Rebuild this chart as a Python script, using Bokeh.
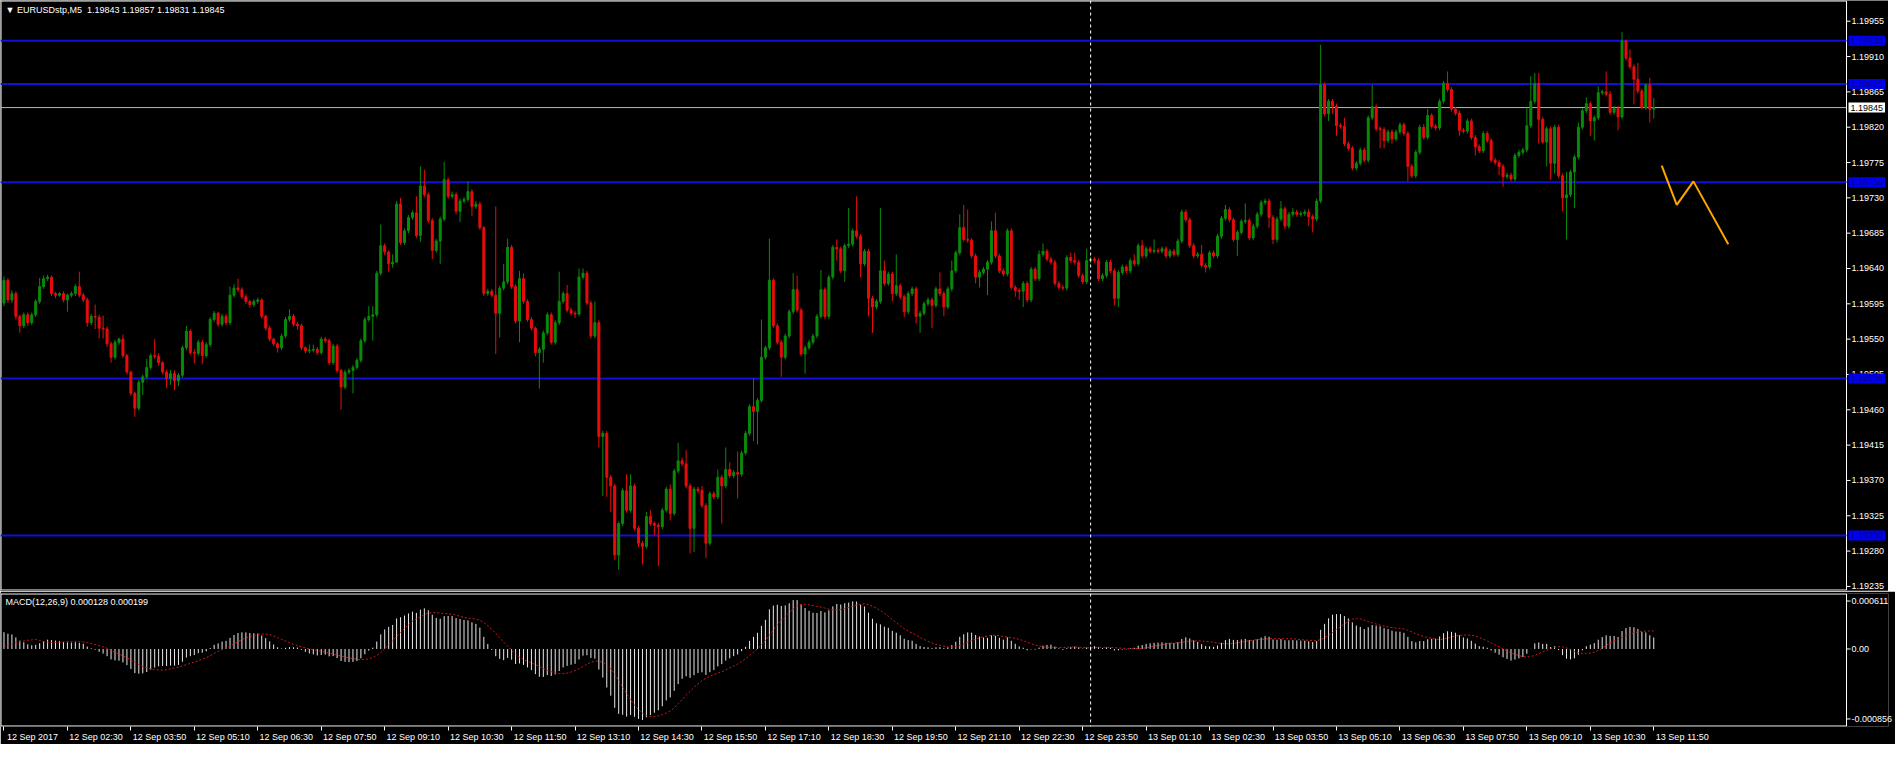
import numpy as np
from bokeh.plotting import figure
from bokeh.models import (ColumnDataSource, Range1d, FixedTicker, CustomJSTickFormatter,
                          Span, Label)
from bokeh.layouts import column
from bokeh.embed import file_html
from bokeh.resources import INLINE

# ---------------- data (prices in points: price = 1.19000 + pts / 100000) ----------------
BASE = 1.19
first_open_pts = 596
close_pts = [
    625,600,608,579,567,581,571,581,598,617, 627,629,608,606,608,600,606,608,617,606,
    600,571,579,578,564,563,544,527,546,550, 529,508,481,462,495,502,514,529,528,520,
    508,500,506,497,504,539,560,533,532,546, 529,543,575,583,569,579,571,606,615,613,
    604,598,594,598,600,579,564,550,544,539, 554,575,579,569,567,539,535,536,537,533,
    550,548,520,541,510,489,508,510,514,523, 548,575,579,581,634,669,661,646,648,722,
    673,688,705,711,682,745,734,701,663,675, 703,753,732,734,713,726,728,738,719,722,
    692,608,611,606,583,615,623,667,617,573, 627,598,575,564,533,537,558,581,546,571,
    598,608,587,583,582,629,634,596,554,571, 426,430,374,363,275,315,357,332,363,309,
    290,286,324,315,313,311,332,359,328,382, 395,391,363,309,359,357,338,290,353,349,
    374,363,384,376,380,378,405,430,464,458, 472,527,539,625,567,546,527,554,585,613,
    587,531,539,546,554,579,613,579,629,667, 665,637,669,671,688,681,646,662,602,591,
    598,637,621,633,608,618,604,585,608,614, 579,583,595,600,593,614,608,591,614,637,
    660,692,677,676,656,629,635,639,648,688, 656,637,633,688,616,612,611,621,600,639,
    627,658,662,652,648,621,616,615,654,650, 648,631,623,650,652,650,627,631,648,637,
    602,635,642,637,650,646,669,656,665,662, 663,662,665,656,662,658,675,712,702,669,
    656,658,644,642,660,656,681,704,715,702, 677,686,700,701,679,694,709,724,726,705,
    677,703,716,694,709,712,709,710,712,706, 703,726,874,837,853,847,822,821,799,793,
    768,774,791,778,832,846,818,817,803,814, 805,814,823,812,770,758,788,820,807,835,
    821,819,853,876,868,843,838,816,815,828, 807,795,790,812,803,778,775,770,757,759,
    754,784,788,791,822,853,876,830,801,818, 774,820,758,730,734,763,782,820,841,850,
    828,832,864,865,862,839,844,833,930,908, 897,881,866,845,874,843,845,
]
high_pts = [
    630,628,612,611,581,584,584,584,601,628, 631,632,631,610,610,611,608,611,620,636,
    609,603,582,594,581,580,566,547,549,552, 556,531,510,483,498,505,525,532,550,532,
    522,511,511,510,507,542,567,563,537,549, 549,546,578,586,585,582,582,617,620,627,
    616,607,600,601,603,602,581,567,552,546, 557,578,588,582,572,570,541,543,543,540,
    553,553,551,544,544,512,511,513,517,526, 551,578,592,592,637,696,672,663,658,726,
    730,691,708,714,732,770,766,737,704,678, 706,776,756,738,737,729,731,751,741,726,
    725,694,614,614,719,618,646,678,670,620, 637,634,601,578,566,540,561,584,584,574,
    636,611,619,590,586,640,640,637,599,598, 574,433,433,377,366,318,360,378,378,366,
    312,293,330,332,318,316,335,362,365,385, 418,399,409,366,362,362,363,341,356,356,
    384,377,412,393,383,407,408,433,467,500, 475,575,542,678,628,570,549,557,588,634,
    631,590,542,549,557,582,638,616,632,670, 677,668,672,717,691,732,684,665,665,605,
    601,717,650,636,636,658,621,607,611,617, 617,586,598,603,603,617,635,611,617,650,
    663,709,721,715,679,659,638,642,651,700, 711,659,640,691,691,619,615,624,624,642,
    642,663,672,665,655,651,624,619,657,660, 660,651,634,665,655,655,653,634,651,651,
    640,638,645,645,653,658,672,676,668,668, 677,666,668,668,665,665,678,715,715,705,
    672,661,670,647,663,663,684,707,721,718, 705,689,703,723,704,697,712,727,729,729,
    708,706,726,719,712,717,715,713,715,716, 709,729,925,877,856,856,850,825,832,802,
    796,777,794,794,835,874,849,821,820,817, 817,817,826,826,815,773,791,823,824,843,
    838,824,856,879,891,871,846,841,819,831, 831,810,798,815,815,806,781,778,773,762,
    762,787,791,794,845,885,889,889,833,821, 821,823,823,761,763,766,785,826,844,858,
    853,835,872,868,891,866,847,847,941,931, 919,900,902,869,874,883,857,
]
low_pts = [
    592,596,596,575,558,564,567,568,578,595, 614,624,605,602,604,597,585,603,605,603,
    597,566,568,563,551,551,540,520,524,543, 526,505,478,451,459,479,499,511,525,516,
    505,488,492,485,490,501,536,530,519,529, 518,526,540,572,566,566,568,568,603,610,
    601,595,590,591,595,576,561,547,541,533, 536,551,572,566,562,536,532,532,533,530,
    530,545,517,517,507,460,486,505,481,511, 520,545,572,548,578,631,657,636,641,670,
    670,670,685,702,679,674,731,698,652,660, 646,700,729,729,709,699,723,725,707,716,
    689,605,605,603,531,552,612,620,614,570, 546,595,572,561,528,487,520,555,543,543,
    568,595,584,580,577,579,626,593,551,551, 412,350,349,330,269,256,312,329,329,306,
    285,263,283,312,300,261,308,329,319,325, 379,388,360,277,279,354,335,271,287,346,
    346,315,360,373,373,347,375,402,427,420, 416,469,524,536,564,543,502,524,551,582,
    584,528,506,536,543,551,576,576,576,626, 650,634,623,666,668,678,629,643,579,558,
    588,595,618,618,598,605,601,578,582,605, 570,558,580,592,564,590,605,579,588,611,
    634,657,674,673,653,621,616,632,606,645, 653,634,630,630,613,604,600,591,597,597,
    624,624,655,649,645,618,613,612,612,647, 645,628,620,620,647,647,624,624,628,634,
    593,591,632,634,634,643,643,653,653,659, 659,659,659,653,653,655,655,672,699,666,
    653,653,641,635,639,653,653,678,701,699, 674,656,683,697,676,676,691,706,721,692,
    671,673,700,690,691,706,706,706,707,694, 686,700,723,834,828,837,809,818,796,790,
    765,765,771,775,775,829,815,793,793,800, 799,802,811,809,751,755,755,785,804,804,
    818,816,816,850,865,840,835,809,812,812, 804,784,787,787,800,775,772,759,744,754,
    751,751,781,785,788,819,850,799,799,770, 753,761,755,713,677,731,717,779,817,838,
    809,803,829,861,859,836,836,816,830,905, 894,849,863,843,842,826,831,
]
assert len(close_pts) == len(high_pts) == len(low_pts) == 417

level_prices = [1.19930, 1.19875, 1.19750, 1.19500, 1.19300]
bid_price = 1.19845
price_ticks = [1.19235, 1.19280, 1.19325, 1.19370, 1.19415, 1.19460, 1.19505, 1.19550, 1.19595,
               1.19640, 1.19685, 1.19730, 1.19775, 1.19820, 1.19865, 1.19910, 1.19955]
time_labels = ["12 Sep 2017", "12 Sep 02:30", "12 Sep 03:50", "12 Sep 05:10", "12 Sep 06:30",
               "12 Sep 07:50", "12 Sep 09:10", "12 Sep 10:30", "12 Sep 11:50", "12 Sep 13:10",
               "12 Sep 14:30", "12 Sep 15:50", "12 Sep 17:10", "12 Sep 18:30", "12 Sep 19:50",
               "12 Sep 21:10", "12 Sep 22:30", "12 Sep 23:50", "13 Sep 01:10", "13 Sep 02:30",
               "13 Sep 03:50", "13 Sep 05:10", "13 Sep 06:30", "13 Sep 07:50", "13 Sep 09:10",
               "13 Sep 10:30", "13 Sep 11:50"]
bars_per_label = 16
separator_bar = 274            # 13 Sep 00:00
macd_scale_values = [-0.000856, 0.0, 0.000611]
ema12_seed_pts, ema26_seed_pts = 600, 582   # indicator state before first visible bar
zig_x = [418, 421.8, 426, 434.8]
zig_price = [1.19771, 1.19721, 1.19751, 1.19671]
title_text = "\u25BC EURUSDstp,M5\u00a0 1.19843 1.19857 1.19831 1.19845"
macd_text = "MACD(12,26,9) 0.000128 0.000199"

# ---------------- derived ----------------
n = len(close_pts)
xs = np.arange(n)
c = BASE + np.array(close_pts) / 1e5
o = BASE + np.array([first_open_pts] + close_pts[:-1]) / 1e5
h = BASE + np.array(high_pts) / 1e5
l = BASE + np.array(low_pts) / 1e5
colors = np.where(c > o + 1e-9, "#0a8a0a", np.where(c < o - 1e-9, "#e80c0c", "#90ee90"))

e12 = BASE + ema12_seed_pts / 1e5
e26 = BASE + ema26_seed_pts / 1e5
main = []
for v in c:
    e12 += (2 / 13) * (v - e12)
    e26 += (2 / 27) * (v - e26)
    main.append(e12 - e26)
main = np.array(main)
hist_ext = np.concatenate([np.zeros(8), main])
signal = np.array([hist_ext[i:i + 9].mean() for i in range(n)])

# ---------------- layout constants ----------------
FONT = "Liberation Sans"
FS = "9px"
W = 1888                 # frame width, price scale area included
CHART_W = 1846           # width of the chart area left of the price scale
X0, XS = -0.875, 464.6   # bars at the left edge / at the price-scale line
PXB = CHART_W / (XS - X0)                  # pixels per bar
XR = Range1d(X0, X0 + W / PXB)
TICK = 4 / PXB           # 4px tick dash, in bar units
STANDOFF = -(W - CHART_W) + 5               # price labels start 5px right of the scale line
LABEL_SHIFT = 7.2        # time labels start just right of their tick
pad_kw = dict(padding=2) if "padding" in Label.properties() else {}


def chart_border(fig, y0, y1, h_px):
    dy = (y1 - y0) / h_px * 0.5
    fig.quad(left=[X0 + 0.5 / PXB], right=[XS], bottom=[y0 + dy], top=[y1 - dy],
             fill_color=None, line_color="white", line_width=1)


def scale_ticks(fig, ticks):
    fig.segment(x0=[XS] * len(ticks), y0=ticks, x1=[XS + TICK] * len(ticks), y1=ticks,
                line_color="white", line_width=1)


def style_price_axis(ax):
    ax.major_label_text_color = "white"
    ax.major_label_text_font = FONT
    ax.major_label_text_font_size = FS
    ax.major_tick_line_color = None
    ax.minor_tick_line_color = None
    ax.major_tick_out = 0
    ax.major_tick_in = 0
    ax.axis_line_color = None
    ax.major_label_standoff = STANDOFF


# ---------------- main price panel ----------------
PY0, PY1, PH = 1.192298, 1.199814, 590
p = figure(frame_width=W, frame_height=PH, x_range=XR, y_range=Range1d(PY0, PY1),
           output_backend="svg", toolbar_location=None, x_axis_location=None,
           y_axis_location="right", min_border_left=0, min_border_right=0,
           min_border_top=0, min_border_bottom=1,
           background_fill_color="black", border_fill_color="black",
           outline_line_color=None)
p.grid.visible = False
ya = p.yaxis[0]
ya.ticker = FixedTicker(ticks=price_ticks)
ya.formatter = CustomJSTickFormatter(code="return tick.toFixed(5);")
style_price_axis(ya)

chart_border(p, PY0, PY1, PH)
p.add_layout(Span(location=separator_bar, dimension="height", line_color="white",
                  line_width=1, line_dash="3 3"))
p.segment(x0=[X0] * len(level_prices), y0=level_prices, x1=[XS] * len(level_prices),
          y1=level_prices, line_color="#1010d8", line_width=2)
p.segment(x0=[X0], y0=[bid_price], x1=[XS], y1=[bid_price], line_color="#b8b8b8", line_width=1)
scale_ticks(p, price_ticks)

src = ColumnDataSource(dict(x=xs, top=np.maximum(o, c), bottom=np.minimum(o, c),
                            high=h, low=l, color=colors))
p.segment(x0="x", y0="low", x1="x", y1="high", color="color", line_width=1, source=src)
p.vbar(x="x", width=0.5, top="top", bottom="bottom", fill_color="color",
       line_color="color", line_width=1, source=src)

p.line(zig_x, zig_price, line_color="#ffa500", line_width=2)

# price boxes on the price scale (levels and bid)
for lv, bg, fg in [(v, "#0000f0", "#000090") for v in level_prices] + [(bid_price, "white", "black")]:
    p.add_layout(Label(x=XS, y=lv, x_offset=2, text=f"{lv:.5f}", text_font=FONT,
                       text_font_size=FS, text_color=fg, text_baseline="middle",
                       background_fill_color=bg, **pad_kw))
p.add_layout(Label(x=5, y=PH - 4, x_units="screen", y_units="screen", text=title_text,
                   text_font=FONT, text_font_size=FS, text_color="white",
                   text_baseline="top"))

# ---------------- MACD panel ----------------
QY0, QY1, QH = -0.000862, 0.000617, 133
q = figure(frame_width=W, frame_height=QH, x_range=XR, y_range=Range1d(QY0, QY1),
           output_backend="svg", toolbar_location=None, y_axis_location="right",
           min_border_left=0, min_border_right=0, min_border_top=2, min_border_bottom=18,
           background_fill_color="black", border_fill_color="black",
           outline_line_color=None)
q.grid.visible = False
# extreme scale values are written inside the panel (7px from the edge), as in the terminal
unit = (QY1 - QY0) / QH
macd_label_pos = [macd_scale_values[0] + 7 * unit, 0.0, macd_scale_values[2] - 7 * unit]
macd_label_txt = [f"{v:.6f}" if v else "0.00" for v in macd_scale_values]
qy = q.yaxis[0]
qy.ticker = FixedTicker(ticks=macd_label_pos)
qy.formatter = CustomJSTickFormatter(
    args=dict(pos=macd_label_pos, txt=macd_label_txt),
    code="""let best = 0;
for (let i = 1; i < pos.length; i++) {
  if (Math.abs(pos[i] - tick) < Math.abs(pos[best] - tick)) best = i;
}
return txt[best];""")
style_price_axis(qy)

# time axis: labels right of the tick, tick marks as minor ticks
qx = q.xaxis[0]
qx.ticker = FixedTicker(
    ticks=[k * bars_per_label + LABEL_SHIFT for k in range(len(time_labels))],
    minor_ticks=[k * bars_per_label for k in range(len(time_labels))])
qx.formatter = CustomJSTickFormatter(
    args=dict(labels=time_labels, step=bars_per_label, shift=LABEL_SHIFT),
    code="return labels[Math.round((tick - shift) / step)];")
qx.major_tick_line_color = None
qx.major_tick_out = 4
qx.major_tick_in = 0
qx.minor_tick_line_color = "white"
qx.minor_tick_out = 4
qx.minor_tick_in = 0
qx.major_label_standoff = 1
qx.axis_line_color = None
qx.major_label_text_color = "white"
qx.major_label_text_font = FONT
qx.major_label_text_font_size = FS

chart_border(q, QY0, QY1, QH)
scale_ticks(q, macd_label_pos)
q.add_layout(Span(location=separator_bar, dimension="height", line_color="white",
                  line_width=1, line_dash="3 3"))
q.segment(x0=xs, y0=np.zeros(n), x1=xs, y1=main, line_color="#e8e8e8", line_width=1)
q.line(xs, signal, line_color="#d01818", line_width=1, line_dash="2 2")
q.add_layout(Label(x=5, y=QH - 3, x_units="screen", y_units="screen", text=macd_text,
                   text_font=FONT, text_font_size=FS, text_color="white",
                   text_baseline="top"))

layout = column(p, q, spacing=0)
open("out.html", "w").write(file_html(layout, INLINE))
